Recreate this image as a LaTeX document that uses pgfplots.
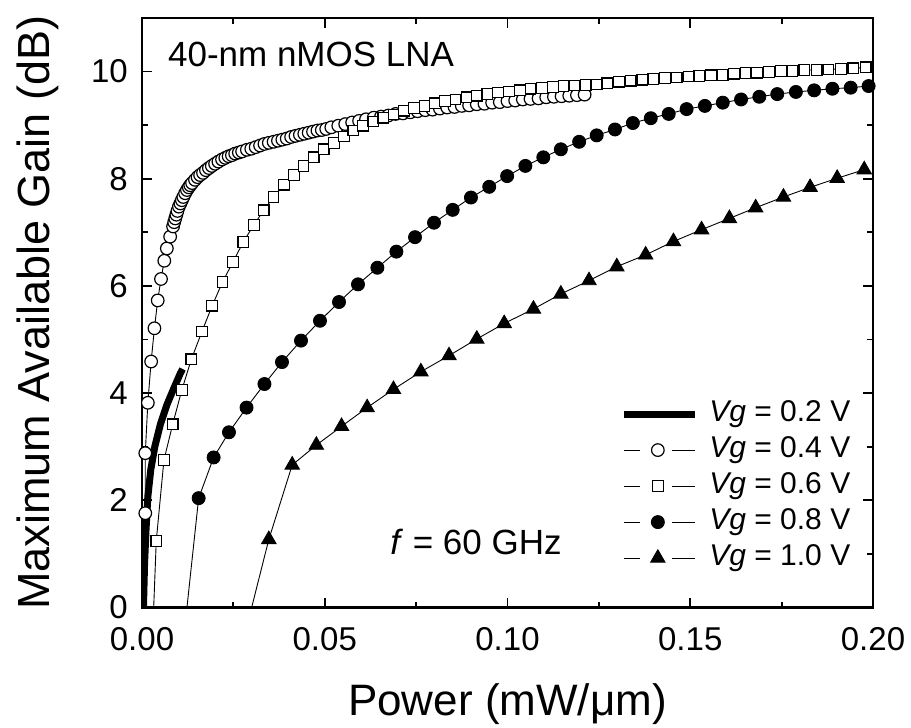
\documentclass[border=0pt]{standalone}
\usepackage{fontspec}
\setmainfont{Liberation Sans}
\usepackage{pgfplots}
\pgfplotsset{compat=1.18}
\pgfplotsset{
  markerlegend/.style={legend image code/.code={
    \draw[##1] (0pt,0pt) -- (16pt,0pt);
    \draw[##1] (48pt,0pt) -- (71pt,0pt);
    \draw[##1] plot coordinates {(34pt,0pt)};
  }},
  thicklegend/.style={legend image code/.code={
    \draw[##1] (0pt,0pt) -- (71pt,0pt);
  }},
}
\begin{document}
\begin{tikzpicture}
\useasboundingbox (-142pt,-120.5pt) rectangle (769pt,607.5pt);
\begin{axis}[
  scale only axis, width=731pt, height=589.5pt,
  at={(0pt,0pt)}, anchor=south west,
  xmin=0, xmax=0.2, ymin=0, ymax=11,
  xtick={0,0.05,0.1,0.15,0.2},
  xticklabels={0.00,0.05,0.10,0.15,0.20},
  minor xtick={0.025,0.075,0.125,0.175},
  ytick={0,2,4,6,8,10},
  minor ytick={1,3,5,7,9},
  /pgf/number format/assume math mode=true,
  tick label style={font=\fontsize{33}{40}\selectfont},
  xticklabel style={inner sep=0pt, anchor=north},
  yticklabel style={inner sep=0pt, anchor=east},
  xticklabel shift=19.5pt,
  yticklabel shift=14pt,
  tick align=inside, tick pos=both,
  major tick length=10pt, minor tick length=6pt,
  tick style={line width=1.8pt, black},
  axis line style={line width=2.5pt},
  xlabel={Power (mW/μm)},
  ylabel={Maximum Available Gain (dB)},
  every axis x label/.style={at={(axis description cs:0.5,-0.1645)}, anchor=center, inner sep=0pt, font=\fontsize{44}{50}\selectfont},
  every axis y label/.style={at={(axis description cs:-0.143,0.5)}, rotate=90, anchor=center, inner sep=0pt, font=\fontsize{45}{50}\selectfont},
  legend style={at={(axis cs:0.1300,3.93)}, anchor=north west, draw=none, fill=none,
    font=\fontsize{30}{36}\selectfont, row sep=6pt, column sep=11pt,
    nodes={inner sep=0pt, text height=22pt, text depth=8pt}},
  legend cell align=left,
  markerlegend,
]
% Vg = 0.2 V (thick line)
\addplot[black, line width=7pt, mark=none, thicklegend]
coordinates {
(0.0004,0) (0.0007,0.82) (0.0011,1.45) (0.0016,2.07) (0.0024,2.57) (0.0035,3.00)
(0.0050,3.41) (0.0068,3.78) (0.0087,4.09) (0.0105,4.37) (0.0111,4.45)
};
\addlegendentry{\textit{Vg} = 0.2 V}

% Vg = 0.4 V
\addplot[black, line width=0.9pt, forget plot] coordinates {(0.0005,0) (0.0009,1.76)};
\addplot[black, line width=0.9pt, mark=*, mark size=6.3pt, mark options={fill=white, line width=1.2pt}]
coordinates {
(0.0009,1.76) (0.0009,2.88) (0.0016,3.82) (0.0025,4.59) (0.0034,5.21) (0.0043,5.73)
(0.0052,6.13) (0.0061,6.47) (0.0068,6.70) (0.0077,6.92) (0.0085,7.11)
(0.0088,7.19) (0.0091,7.26) (0.0094,7.33) (0.0097,7.40) (0.0101,7.48) (0.0105,7.54)
(0.0109,7.60) (0.0113,7.66) (0.0118,7.73) (0.0123,7.79) (0.0128,7.84) (0.0132,7.88)
(0.0137,7.92) (0.0145,7.98) (0.0152,8.03) (0.0159,8.07) (0.0167,8.11) (0.0175,8.16)
(0.0183,8.20) (0.0191,8.24) (0.0200,8.28) (0.0209,8.32) (0.0219,8.36) (0.0228,8.39)
(0.0237,8.42) (0.0246,8.44) (0.0255,8.47) (0.0265,8.49) (0.0274,8.51)
(0.0287,8.54) (0.0299,8.56) (0.0311,8.59) (0.0323,8.62) (0.0335,8.65) (0.0347,8.67)
(0.0360,8.69) (0.0372,8.71) (0.0384,8.73) (0.0396,8.75) (0.0408,8.78) (0.0420,8.80)
(0.0432,8.82) (0.0444,8.84) (0.0456,8.86) (0.0468,8.88) (0.0480,8.90) (0.0492,8.91)
(0.0504,8.93) (0.0518,8.96) (0.0537,8.99) (0.0556,9.02) (0.0575,9.05) (0.0594,9.08)
(0.0613,9.11) (0.0634,9.14) (0.0654,9.16) (0.0674,9.18) (0.0694,9.21) (0.0714,9.22)
(0.0734,9.24) (0.0754,9.26) (0.0775,9.28) (0.0795,9.29) (0.0815,9.31) (0.0835,9.33)
(0.0855,9.34) (0.0875,9.36) (0.0895,9.37) (0.0916,9.39) (0.0937,9.40) (0.0958,9.42)
(0.0979,9.43) (0.1000,9.45) (0.1021,9.46) (0.1042,9.48) (0.1063,9.49) (0.1085,9.50)
(0.1106,9.52) (0.1127,9.53) (0.1148,9.54) (0.1169,9.55) (0.1190,9.56) (0.1211,9.57)
};
\addlegendentry{\textit{Vg} = 0.4 V}

% Vg = 0.6 V
\addplot[black, line width=0.9pt, forget plot] coordinates {(0.0032,0) (0.0039,1.24)};
\addplot[black, line width=0.9pt, mark=square*, mark size=5.3pt, mark options={fill=white, line width=1.2pt}]
coordinates {
(0.0039,1.24) (0.0060,2.75) (0.0084,3.42) (0.0109,4.06) (0.0135,4.63) (0.0164,5.15)
(0.0192,5.63) (0.0220,6.07) (0.0249,6.45) (0.0277,6.82) (0.0306,7.14) (0.0333,7.41)
(0.0360,7.66) (0.0389,7.89) (0.0416,8.07) (0.0442,8.24) (0.0470,8.40) (0.0497,8.55)
(0.0525,8.67) (0.0553,8.79) (0.0578,8.90) (0.0605,8.99) (0.0633,9.07) (0.0660,9.14)
(0.0688,9.20) (0.0717,9.27) (0.0744,9.32) (0.0773,9.36) (0.0802,9.41) (0.0829,9.45)
(0.0858,9.48) (0.0888,9.52) (0.0916,9.55) (0.0945,9.58) (0.0974,9.61) (0.1004,9.63)
(0.1034,9.65) (0.1063,9.68) (0.1094,9.69) (0.1124,9.71) (0.1153,9.73) (0.1183,9.74)
(0.1214,9.75) (0.1244,9.76) (0.1273,9.78) (0.1305,9.81) (0.1337,9.83) (0.1369,9.85)
(0.1399,9.86) (0.1431,9.88) (0.1463,9.89) (0.1495,9.91) (0.1525,9.92) (0.1557,9.93)
(0.1589,9.94) (0.1620,9.96) (0.1651,9.97) (0.1683,9.98) (0.1715,9.99) (0.1748,10.01)
(0.1780,10.01) (0.1812,10.03) (0.1846,10.03) (0.1878,10.04) (0.1912,10.05) (0.1946,10.06)
(0.1980,10.08)
};
\addlegendentry{\textit{Vg} = 0.6 V}

% Vg = 0.8 V
\addplot[black, line width=0.9pt, forget plot] coordinates {(0.0123,0) (0.0155,2.04)};
\addplot[black, line width=0.9pt, mark=*, mark size=6.5pt, mark options={fill=black}]
coordinates {
(0.0155,2.04) (0.0196,2.80) (0.0238,3.27) (0.0286,3.73) (0.0335,4.17) (0.0383,4.58)
(0.0435,4.98) (0.0487,5.35) (0.0539,5.70) (0.0591,6.03) (0.0644,6.34) (0.0696,6.64)
(0.0747,6.91) (0.0799,7.18) (0.0850,7.42) (0.0900,7.65) (0.0950,7.85) (0.0999,8.05)
(0.1049,8.24) (0.1098,8.40) (0.1146,8.55) (0.1196,8.69) (0.1244,8.81) (0.1294,8.92)
(0.1343,9.04) (0.1392,9.13) (0.1441,9.21) (0.1490,9.30) (0.1540,9.36) (0.1589,9.42)
(0.1639,9.48) (0.1689,9.53) (0.1738,9.58) (0.1789,9.62) (0.1839,9.65) (0.1889,9.68)
(0.1939,9.70) (0.1988,9.73)
};
\addlegendentry{\textit{Vg} = 0.8 V}

% Vg = 1.0 V
\addplot[black, line width=0.9pt, forget plot] coordinates {(0.0300,0) (0.0347,1.27)};
\addplot[black, line width=0.9pt, mark=triangle*, mark size=8.3pt, mark options={fill=black}]
coordinates {
(0.0347,1.27) (0.0411,2.66) (0.0477,3.03) (0.0546,3.38) (0.0616,3.73) (0.0688,4.07)
(0.0763,4.40) (0.0840,4.70) (0.0916,5.01) (0.0991,5.30) (0.1071,5.57) (0.1146,5.85)
(0.1223,6.10) (0.1299,6.36) (0.1378,6.58) (0.1454,6.83) (0.1531,7.05) (0.1607,7.26)
(0.1679,7.46) (0.1755,7.66) (0.1828,7.84) (0.1902,8.01) (0.1976,8.17)
};
\addlegendentry{\textit{Vg} = 1.0 V}

\node[anchor=base west, inner sep=0pt, font=\fontsize{35}{40}\selectfont] at (axis cs:0.0071,10.09) {40-nm nMOS LNA};
\node[anchor=base west, inner sep=0pt, font=\fontsize{35}{40}\selectfont] at (axis cs:0.0679,0.98) {\textit{f} = 60 GHz};
\end{axis}
\end{tikzpicture}
\end{document}
